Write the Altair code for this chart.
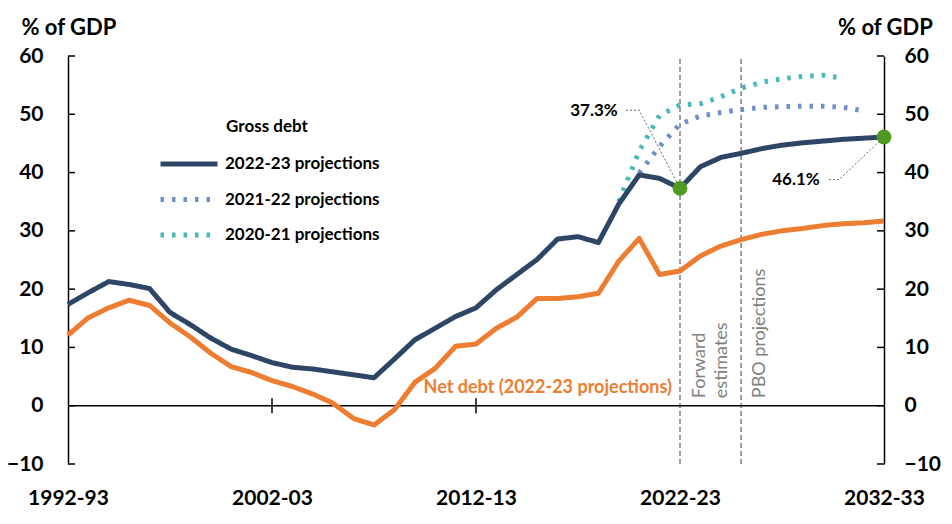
import altair as alt
import pandas as pd

FONT = "Lato"

# ---------------- data ----------------
years = [f"{y}-{str(y + 1)[2:]}" for y in range(1992, 2033)]

gross_2022_23 = [17.4, 19.4, 21.3, 20.8, 20.1, 16.0, 13.9, 11.6, 9.7, 8.6,
                 7.4, 6.6, 6.3, 5.8, 5.3, 4.8, 8.0, 11.3, 13.3, 15.3,
                 16.8, 19.9, 22.5, 25.1, 28.6, 29.0, 28.0, 34.6, 39.6, 39.0,
                 37.3, 41.0, 42.6, 43.3, 44.1, 44.7, 45.1, 45.4, 45.7, 45.9,
                 46.1]

net_2022_23 = [12.1, 15.1, 16.8, 18.1, 17.2, 14.2, 11.8, 9.0, 6.7, 5.7,
               4.3, 3.3, 2.0, 0.4, -2.2, -3.3, -0.7, 4.0, 6.4, 10.2,
               10.6, 13.3, 15.2, 18.4, 18.4, 18.7, 19.3, 24.8, 28.7, 22.5,
               23.1, 25.7, 27.4, 28.5, 29.4, 30.0, 30.4, 30.9, 31.2, 31.4,
               31.7]

gross_2021_22_start = 28  # 2020-21
gross_2021_22 = [39.9, 44.5, 48.3, 49.7, 50.3, 50.8, 51.2, 51.3, 51.4, 51.4,
                 51.2, 50.6]

gross_2020_21_start = 27  # 2019-20
gross_2020_21 = [35.0, 43.7, 49.8, 51.6, 51.8, 53.0, 54.5, 55.5, 56.1, 56.5,
                 56.7, 56.2]

series_names = ["2022-23 projections", "2021-22 projections", "2020-21 projections"]
series_colors = ["#2E4566", "#6F8FC6", "#4BB8B8"]
series_dash = [[1, 0], [3.5, 8], [3.5, 8]]

x_tick_values = [0, 10, 20, 30, 40]
x_tick_labels = ["1992-93", "2002-03", "2012-13", "2022-23", "2032-33"]
x_cross_ticks = [10, 20]
y_ticks = [-10, 0, 10, 20, 30, 40, 50, 60]

period_lines = [30, 33]  # 2022-23, 2025-26

marker_x = [30, 40]
marker_v = [37.3, 46.1]

# annotation label placement (data coordinates)
ann_text = ["37.3%", "46.1%"]
ann_x = [26.95, 36.85]
ann_v = [50.5, 38.7]
leader_id = [0, 0, 0, 1, 1, 1]
leader_order = [0, 1, 2, 0, 1, 2]
leader_x = [27.35, 28.0, 30, 37.3, 37.8, 40]
leader_v = [50.7, 50.7, 37.3, 38.8, 38.8, 46.1]

vtext = ["Forward", "estimates", "PBO projections"]
vtext_x = [30.98, 32.05, 33.9]
vtext_v = [1.3, 1.3, 1.3]

net_label = "Net debt (2022-23 projections)"
net_label_x = 29.6
net_label_v = 3.1

legend_title = "Gross debt"
legend_title_x = 7.75
legend_title_v = 47.8

NAVY = "#2E4566"
ORANGE = "#ED7D31"
GREEN = "#4E9A22"
GRAY = "#808080"

# ---------------- tables ----------------
idx = list(range(len(years)))
net_df = pd.DataFrame({"x": idx, "v": net_2022_23, "year": years})

rows = []
for i, v in enumerate(gross_2020_21):
    rows.append({"x": gross_2020_21_start + i, "v": v, "series": series_names[2]})
for i, v in enumerate(gross_2021_22):
    rows.append({"x": gross_2021_22_start + i, "v": v, "series": series_names[1]})
for i, v in enumerate(gross_2022_23):
    rows.append({"x": i, "v": v, "series": series_names[0]})
gross_df = pd.DataFrame(rows)

yt_df = pd.DataFrame({"v": y_ticks})
xt_df = pd.DataFrame({"x": x_cross_ticks})
pl_df = pd.DataFrame({"x": period_lines})
mk_df = pd.DataFrame({"x": marker_x, "v": marker_v})
ann_df = pd.DataFrame({"x": ann_x, "v": ann_v, "t": ann_text})
lead_df = pd.DataFrame({"x": leader_x, "v": leader_v, "id": leader_id, "o": leader_order})
vt_df = pd.DataFrame({"x": vtext_x, "v": vtext_v, "t": vtext})
nl_df = pd.DataFrame({"x": [net_label_x], "v": [net_label_v], "t": [net_label]})
lt_df = pd.DataFrame({"x": [legend_title_x], "v": [legend_title_v], "t": [legend_title]})
zero_df = pd.DataFrame({"x": [0], "x2": [40], "v": [0]})

xscale = alt.Scale(domain=[0, 40], nice=False, zero=False)
yscale = alt.Scale(domain=[-10, 60], nice=False, zero=False)


def X(f):
    return alt.X(f, type="quantitative", scale=xscale, axis=None)


def Y(f):
    return alt.Y(f, type="quantitative", scale=yscale, axis=None)


axis_common = dict(
    values=y_ticks, ticks=False, grid=False, domain=True, domainColor="black",
    domainWidth=1.5, labelFont=FONT, labelFontSize=21, labelFontWeight="bold",
    labelColor="black", title="% of GDP", titleAngle=0,
    titleFont=FONT, titleFontSize=22, titleFontWeight="bold", titleColor="black",
    titleBaseline="middle", titleY=-29,
)

left_ticks = alt.Chart(yt_df).mark_rule(color="black", strokeWidth=1.5).encode(
    y=alt.Y("v:Q", scale=yscale,
            axis=alt.Axis(orient="left", titleX=-47, titleAlign="left",
                          labelPadding=25, **axis_common)),
    x=alt.value(0), x2=alt.value(7),
)

right_ticks = alt.Chart(yt_df).mark_rule(color="black", strokeWidth=1.5).encode(
    y=alt.Y("v:Q", scale=yscale,
            axis=alt.Axis(orient="right", titleX=1, titleAlign="center",
                          labelPadding=20, **axis_common)),
    x=alt.value(809), x2=alt.value(816),
)

# label expression built from the tick label list
label_expr = "".join(
    f"datum.value == {v} ? '{t}' : " for v, t in zip(x_tick_values, x_tick_labels)
) + "''"

zero_line = alt.Chart(zero_df).mark_rule(color="black", strokeWidth=1.5).encode(
    x=X("x:Q"),
    x2="x2:Q",
    y=Y("v:Q"),
)

cross_ticks = alt.Chart(xt_df).mark_rule(color="black", strokeWidth=1.5).encode(
    x=X("x:Q"),
    y=alt.YDatum(-1.3, scale=yscale, axis=None),
    y2=alt.Y2Datum(1.3),
)

period = alt.Chart(pl_df).mark_rule(color=GRAY, strokeWidth=1.5, strokeDash=[5, 3]).encode(
    x=X("x:Q"),
    y=alt.YDatum(-10, scale=yscale, axis=None),
    y2=alt.Y2Datum(60),
)

# custom wide stroke symbol: path spans -3..3, scaled by sqrt(size)/2
legend_kw = dict(
    title=None, orient="none", legendX=109, legendY=96,
    symbolType="M-3,0H3", symbolSize=361, symbolStrokeWidth=5,
    labelFont=FONT, labelFontSize=17, labelFontWeight="bold", labelColor="black",
    labelOffset=24, labelLimit=400, rowPadding=13.5, padding=0,
)

gross = alt.Chart(gross_df).mark_line(strokeWidth=5, strokeJoin="round").encode(
    x=X("x:Q"),
    y=Y("v:Q"),
    color=alt.Color("series:N", scale=alt.Scale(domain=series_names, range=series_colors),
                    legend=alt.Legend(**legend_kw)),
    strokeDash=alt.StrokeDash("series:N",
                              scale=alt.Scale(domain=series_names, range=series_dash),
                              legend=alt.Legend(**legend_kw)),
)

net = alt.Chart(net_df).mark_line(strokeWidth=5, color=ORANGE, strokeJoin="round").encode(
    x=alt.X("x:Q", scale=xscale,
            axis=alt.Axis(orient="bottom", values=x_tick_values, labelExpr=label_expr,
                          domain=False, ticks=False, grid=False, title=None,
                          labelFont=FONT, labelFontSize=21, labelFontWeight="bold",
                          labelColor="black", labelPadding=23, labelFlush=False,
                          labelOverlap=False)),
    y=Y("v:Q"),
)

markers = alt.Chart(mk_df).mark_point(filled=True, size=220, color=GREEN, opacity=1).encode(
    x=X("x:Q"), y=Y("v:Q"),
)

leaders = alt.Chart(lead_df).mark_line(color="#404040", strokeWidth=0.8,
                                       strokeDash=[2, 2]).encode(
    x=X("x:Q"), y=Y("v:Q"), detail="id:N", order="o:Q",
)

ann = alt.Chart(ann_df).mark_text(align="right", baseline="middle", font=FONT,
                                  fontSize=17, fontWeight="bold", color="black").encode(
    x=X("x:Q"), y=Y("v:Q"), text="t:N",
)

vt = alt.Chart(vt_df).mark_text(angle=270, align="left", baseline="middle", font=FONT,
                                fontSize=18, color=GRAY).encode(
    x=X("x:Q"), y=Y("v:Q"), text="t:N",
)

nl = alt.Chart(nl_df).mark_text(align="right", baseline="middle", font=FONT,
                                fontSize=18, fontWeight="bold", color=ORANGE).encode(
    x=X("x:Q"), y=Y("v:Q"), text="t:N",
)

lt = alt.Chart(lt_df).mark_text(align="left", baseline="middle", font=FONT,
                                fontSize=17, fontWeight="bold", color="black").encode(
    x=X("x:Q"), y=Y("v:Q"), text="t:N",
)

chart = alt.layer(
    period, zero_line, cross_ticks, left_ticks, right_ticks,
    gross, net, leaders, markers, ann, vt, nl, lt,
).resolve_axis(x="independent", y="independent").properties(
    width=816, height=408,
    autosize=alt.AutoSizeParams(type="none"),
    padding={"left": 60, "top": 48, "right": 60, "bottom": 52},
    background="white",
).configure_view(stroke=None)

chart.save("out.html", embed_options={"renderer": "svg", "actions": False})
